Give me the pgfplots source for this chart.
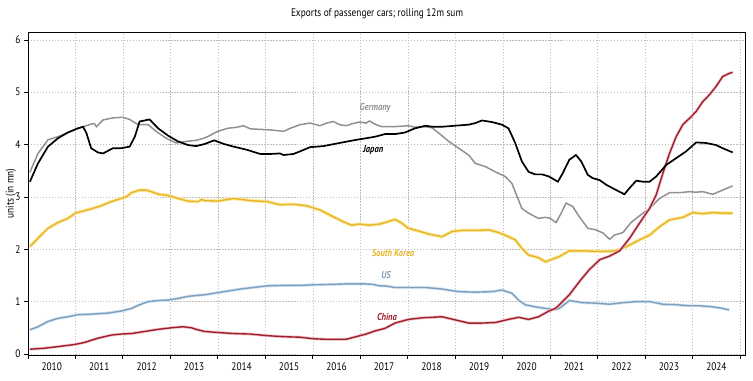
\documentclass[border=0pt]{standalone}
\usepackage{fontspec}
\setmainfont{PT Sans}[FakeStretch=0.85]
\usepackage{pgfplots}
\pgfplotsset{compat=1.18}
\definecolor{ger}{RGB}{145,145,145}
\definecolor{kor}{RGB}{230,182,38}
\definecolor{korglow}{RGB}{252,232,165}
\definecolor{usc}{RGB}{125,160,190}
\definecolor{usglow}{RGB}{215,230,242}
\definecolor{chn}{RGB}{160,30,45}
\definecolor{chnglow}{RGB}{240,200,205}
\definecolor{gridc}{RGB}{190,190,190}
\begin{document}
\begin{tikzpicture}
\useasboundingbox (-28bp,-26bp) rectangle (725bp,355bp);
\begin{axis}[
  scale only axis, width=717bp, height=323bp,
  at={(0,0)}, anchor=south west,
  xmin=2010, xmax=2025.1, ymin=-0.02, ymax=6.15,
  xtick={2010,...,2025},
  xticklabels={2010,2011,2012,2013,2014,2015,2016,2017,2018,2019,2020,2021,2022,2023,2024,},
  x tick label style={xshift=23.7bp, font=\fontsize{11}{13}\selectfont},
  ytick={0,...,6},
  y tick label style={font=\fontsize{11}{13}\selectfont},
  xtick pos=bottom, ytick pos=left,
  tick align=outside, major tick length=4bp,
  x tick style={black, line width=1pt},
  y tick style={black, line width=0.6pt},
  xmajorgrids, ymajorgrids,
  grid style={gridc, dash pattern=on 1.5pt off 1.5pt, line width=0.5pt},
  axis line style={black, line width=0.8pt},
  /pgf/number format/assume math mode=true,
  ylabel={units (in mn)},
  ylabel style={at={(axis description cs:-0.0237,0.5)}, anchor=center, font=\fontsize{11}{13}\selectfont},
  clip=false,
]
% US
\addplot[usglow, line width=3bp] coordinates {
(2010.04,0.46)(2010.21,0.52)(2010.42,0.62)(2010.63,0.68)(2010.84,0.71)(2011.05,0.75)(2011.33,0.76)(2011.68,0.78)(2011.96,0.82)(2012.18,0.87)(2012.35,0.94)(2012.53,1.00)(2012.74,1.02)(2012.95,1.03)(2013.16,1.06)(2013.37,1.10)(2013.58,1.12)(2013.72,1.13)(2013.92,1.16)(2014.20,1.20)(2014.47,1.24)(2014.75,1.27)(2015.03,1.30)(2015.38,1.31)(2015.73,1.31)(2016.01,1.32)(2016.43,1.33)(2016.77,1.34)(2017.05,1.34)(2017.26,1.33)(2017.40,1.30)(2017.52,1.30)(2017.73,1.27)(2018.01,1.27)(2018.37,1.27)(2018.72,1.24)(2019.07,1.19)(2019.42,1.18)(2019.77,1.19)(2019.98,1.22)(2020.19,1.16)(2020.33,1.03)(2020.47,0.94)(2020.68,0.90)(2020.90,0.87)(2021.11,0.85)(2021.19,0.87)(2021.40,1.02)(2021.68,0.98)(2021.96,0.97)(2022.25,0.95)(2022.53,0.98)(2022.81,1.00)(2023.09,1.00)(2023.37,0.95)(2023.65,0.94)(2023.93,0.92)(2024.14,0.92)(2024.42,0.90)(2024.63,0.87)(2024.77,0.84)};
\addplot[usc, line width=1.4bp] coordinates {
(2010.04,0.46)(2010.21,0.52)(2010.42,0.62)(2010.63,0.68)(2010.84,0.71)(2011.05,0.75)(2011.33,0.76)(2011.68,0.78)(2011.96,0.82)(2012.18,0.87)(2012.35,0.94)(2012.53,1.00)(2012.74,1.02)(2012.95,1.03)(2013.16,1.06)(2013.37,1.10)(2013.58,1.12)(2013.72,1.13)(2013.92,1.16)(2014.20,1.20)(2014.47,1.24)(2014.75,1.27)(2015.03,1.30)(2015.38,1.31)(2015.73,1.31)(2016.01,1.32)(2016.43,1.33)(2016.77,1.34)(2017.05,1.34)(2017.26,1.33)(2017.40,1.30)(2017.52,1.30)(2017.73,1.27)(2018.01,1.27)(2018.37,1.27)(2018.72,1.24)(2019.07,1.19)(2019.42,1.18)(2019.77,1.19)(2019.98,1.22)(2020.19,1.16)(2020.33,1.03)(2020.47,0.94)(2020.68,0.90)(2020.90,0.87)(2021.11,0.85)(2021.19,0.87)(2021.40,1.02)(2021.68,0.98)(2021.96,0.97)(2022.25,0.95)(2022.53,0.98)(2022.81,1.00)(2023.09,1.00)(2023.37,0.95)(2023.65,0.94)(2023.93,0.92)(2024.14,0.92)(2024.42,0.90)(2024.63,0.87)(2024.77,0.84)};
% South Korea
\addplot[korglow, line width=3.5bp] coordinates {
(2010.04,2.05)(2010.21,2.21)(2010.42,2.40)(2010.63,2.51)(2010.84,2.59)(2011.00,2.69)(2011.16,2.73)(2011.33,2.77)(2011.54,2.83)(2011.75,2.91)(2011.96,2.97)(2012.07,3.00)(2012.18,3.08)(2012.35,3.13)(2012.49,3.13)(2012.63,3.09)(2012.74,3.05)(2012.95,3.03)(2013.16,2.97)(2013.37,2.92)(2013.58,2.91)(2013.65,2.95)(2013.72,2.93)(2013.99,2.92)(2014.33,2.97)(2014.68,2.93)(2015.03,2.91)(2015.31,2.85)(2015.59,2.86)(2015.87,2.83)(2016.15,2.75)(2016.43,2.62)(2016.63,2.53)(2016.81,2.46)(2016.98,2.48)(2017.19,2.46)(2017.40,2.48)(2017.52,2.51)(2017.73,2.57)(2017.87,2.50)(2018.01,2.40)(2018.22,2.35)(2018.44,2.29)(2018.72,2.24)(2018.93,2.34)(2019.14,2.36)(2019.42,2.36)(2019.70,2.37)(2019.91,2.32)(2020.12,2.24)(2020.26,2.18)(2020.40,2.02)(2020.54,1.89)(2020.75,1.84)(2020.90,1.76)(2021.04,1.81)(2021.19,1.86)(2021.40,1.97)(2021.68,1.97)(2021.96,1.96)(2022.25,1.96)(2022.46,1.99)(2022.67,2.08)(2022.88,2.18)(2023.09,2.27)(2023.30,2.43)(2023.51,2.56)(2023.79,2.61)(2024.00,2.70)(2024.21,2.68)(2024.42,2.70)(2024.63,2.69)(2024.84,2.69)};
\addplot[kor, line width=1.4bp] coordinates {
(2010.04,2.05)(2010.21,2.21)(2010.42,2.40)(2010.63,2.51)(2010.84,2.59)(2011.00,2.69)(2011.16,2.73)(2011.33,2.77)(2011.54,2.83)(2011.75,2.91)(2011.96,2.97)(2012.07,3.00)(2012.18,3.08)(2012.35,3.13)(2012.49,3.13)(2012.63,3.09)(2012.74,3.05)(2012.95,3.03)(2013.16,2.97)(2013.37,2.92)(2013.58,2.91)(2013.65,2.95)(2013.72,2.93)(2013.99,2.92)(2014.33,2.97)(2014.68,2.93)(2015.03,2.91)(2015.31,2.85)(2015.59,2.86)(2015.87,2.83)(2016.15,2.75)(2016.43,2.62)(2016.63,2.53)(2016.81,2.46)(2016.98,2.48)(2017.19,2.46)(2017.40,2.48)(2017.52,2.51)(2017.73,2.57)(2017.87,2.50)(2018.01,2.40)(2018.22,2.35)(2018.44,2.29)(2018.72,2.24)(2018.93,2.34)(2019.14,2.36)(2019.42,2.36)(2019.70,2.37)(2019.91,2.32)(2020.12,2.24)(2020.26,2.18)(2020.40,2.02)(2020.54,1.89)(2020.75,1.84)(2020.90,1.76)(2021.04,1.81)(2021.19,1.86)(2021.40,1.97)(2021.68,1.97)(2021.96,1.96)(2022.25,1.96)(2022.46,1.99)(2022.67,2.08)(2022.88,2.18)(2023.09,2.27)(2023.30,2.43)(2023.51,2.56)(2023.79,2.61)(2024.00,2.70)(2024.21,2.68)(2024.42,2.70)(2024.63,2.69)(2024.84,2.69)};
% Germany
\addplot[ger, line width=1.5bp] coordinates {
(2010.04,3.47)(2010.21,3.83)(2010.42,4.09)(2010.63,4.15)(2010.84,4.23)(2011.00,4.29)(2011.16,4.34)(2011.33,4.39)(2011.40,4.40)(2011.44,4.34)(2011.58,4.47)(2011.79,4.51)(2012.00,4.52)(2012.14,4.48)(2012.32,4.38)(2012.53,4.38)(2012.70,4.25)(2012.91,4.12)(2013.12,4.03)(2013.33,4.06)(2013.54,4.08)(2013.70,4.12)(2013.78,4.15)(2013.99,4.25)(2014.20,4.31)(2014.40,4.33)(2014.54,4.36)(2014.68,4.30)(2014.89,4.29)(2015.10,4.28)(2015.31,4.26)(2015.38,4.25)(2015.52,4.31)(2015.73,4.38)(2015.94,4.41)(2016.15,4.36)(2016.29,4.41)(2016.43,4.44)(2016.56,4.38)(2016.70,4.36)(2016.84,4.40)(2016.98,4.43)(2017.12,4.41)(2017.19,4.45)(2017.33,4.38)(2017.45,4.34)(2017.66,4.34)(2017.87,4.35)(2018.01,4.36)(2018.15,4.33)(2018.37,4.34)(2018.51,4.32)(2018.65,4.22)(2018.86,4.06)(2019.07,3.93)(2019.28,3.80)(2019.42,3.64)(2019.63,3.58)(2019.84,3.48)(2020.05,3.39)(2020.19,3.26)(2020.30,3.01)(2020.40,2.78)(2020.54,2.69)(2020.75,2.59)(2020.90,2.61)(2021.00,2.59)(2021.12,2.51)(2021.23,2.69)(2021.33,2.88)(2021.47,2.82)(2021.61,2.62)(2021.79,2.40)(2021.96,2.37)(2022.11,2.31)(2022.25,2.19)(2022.35,2.27)(2022.53,2.32)(2022.70,2.51)(2022.88,2.64)(2023.09,2.78)(2023.30,2.97)(2023.51,3.08)(2023.72,3.08)(2023.93,3.10)(2024.07,3.09)(2024.21,3.10)(2024.42,3.05)(2024.63,3.13)(2024.84,3.21)};
% China
\addplot[chnglow, line width=3bp] coordinates {
(2010.04,0.09)(2010.35,0.11)(2010.63,0.14)(2010.98,0.18)(2011.19,0.22)(2011.47,0.30)(2011.75,0.36)(2011.96,0.38)(2012.18,0.39)(2012.46,0.43)(2012.74,0.47)(2013.02,0.50)(2013.26,0.52)(2013.44,0.50)(2013.58,0.46)(2013.72,0.43)(2013.99,0.41)(2014.33,0.39)(2014.68,0.38)(2015.03,0.35)(2015.38,0.33)(2015.73,0.32)(2016.01,0.29)(2016.29,0.28)(2016.70,0.28)(2016.91,0.33)(2017.12,0.38)(2017.31,0.44)(2017.52,0.49)(2017.73,0.59)(2018.01,0.66)(2018.30,0.69)(2018.72,0.71)(2019.00,0.65)(2019.28,0.59)(2019.56,0.59)(2019.84,0.60)(2020.12,0.66)(2020.33,0.70)(2020.54,0.66)(2020.75,0.71)(2020.97,0.82)(2021.11,0.87)(2021.19,0.94)(2021.40,1.13)(2021.61,1.38)(2021.82,1.61)(2022.04,1.80)(2022.25,1.87)(2022.46,1.97)(2022.67,2.21)(2022.88,2.50)(2023.09,2.78)(2023.23,3.04)(2023.37,3.45)(2023.51,3.83)(2023.65,4.15)(2023.79,4.38)(2023.93,4.50)(2024.07,4.63)(2024.21,4.82)(2024.35,4.95)(2024.49,5.11)(2024.63,5.30)(2024.77,5.36)(2024.84,5.38)};
\addplot[chn, line width=1.4bp] coordinates {
(2010.04,0.09)(2010.35,0.11)(2010.63,0.14)(2010.98,0.18)(2011.19,0.22)(2011.47,0.30)(2011.75,0.36)(2011.96,0.38)(2012.18,0.39)(2012.46,0.43)(2012.74,0.47)(2013.02,0.50)(2013.26,0.52)(2013.44,0.50)(2013.58,0.46)(2013.72,0.43)(2013.99,0.41)(2014.33,0.39)(2014.68,0.38)(2015.03,0.35)(2015.38,0.33)(2015.73,0.32)(2016.01,0.29)(2016.29,0.28)(2016.70,0.28)(2016.91,0.33)(2017.12,0.38)(2017.31,0.44)(2017.52,0.49)(2017.73,0.59)(2018.01,0.66)(2018.30,0.69)(2018.72,0.71)(2019.00,0.65)(2019.28,0.59)(2019.56,0.59)(2019.84,0.60)(2020.12,0.66)(2020.33,0.70)(2020.54,0.66)(2020.75,0.71)(2020.97,0.82)(2021.11,0.87)(2021.19,0.94)(2021.40,1.13)(2021.61,1.38)(2021.82,1.61)(2022.04,1.80)(2022.25,1.87)(2022.46,1.97)(2022.67,2.21)(2022.88,2.50)(2023.09,2.78)(2023.23,3.04)(2023.37,3.45)(2023.51,3.83)(2023.65,4.15)(2023.79,4.38)(2023.93,4.50)(2024.07,4.63)(2024.21,4.82)(2024.35,4.95)(2024.49,5.11)(2024.63,5.30)(2024.77,5.36)(2024.84,5.38)};
% Japan
\addplot[black, line width=1.7bp] coordinates {
(2010.04,3.29)(2010.21,3.64)(2010.42,3.96)(2010.63,4.12)(2010.84,4.23)(2011.05,4.31)(2011.16,4.34)(2011.23,4.22)(2011.33,3.93)(2011.47,3.85)(2011.58,3.83)(2011.79,3.93)(2011.96,3.93)(2012.14,3.96)(2012.25,4.15)(2012.35,4.44)(2012.56,4.48)(2012.74,4.31)(2012.95,4.17)(2013.16,4.06)(2013.37,3.99)(2013.54,3.97)(2013.72,4.01)(2013.92,4.08)(2014.13,4.01)(2014.33,3.96)(2014.61,3.90)(2014.89,3.82)(2015.10,3.82)(2015.31,3.83)(2015.38,3.80)(2015.59,3.82)(2015.73,3.87)(2015.94,3.95)(2016.22,3.97)(2016.56,4.03)(2016.91,4.09)(2017.12,4.12)(2017.31,4.15)(2017.52,4.20)(2017.73,4.20)(2017.94,4.23)(2018.15,4.31)(2018.37,4.36)(2018.51,4.34)(2018.72,4.34)(2019.00,4.36)(2019.28,4.38)(2019.42,4.41)(2019.56,4.46)(2019.77,4.43)(2019.98,4.38)(2020.12,4.31)(2020.26,4.03)(2020.40,3.68)(2020.54,3.48)(2020.68,3.43)(2020.83,3.43)(2020.97,3.39)(2021.16,3.29)(2021.26,3.45)(2021.40,3.71)(2021.54,3.80)(2021.65,3.68)(2021.79,3.42)(2021.89,3.36)(2022.04,3.32)(2022.18,3.23)(2022.39,3.13)(2022.56,3.05)(2022.67,3.17)(2022.81,3.31)(2022.95,3.29)(2023.09,3.29)(2023.23,3.39)(2023.44,3.61)(2023.65,3.74)(2023.86,3.87)(2024.07,4.04)(2024.28,4.03)(2024.49,3.99)(2024.63,3.93)(2024.84,3.85)};
\node[font=\fontsize{11}{13}\selectfont] at (rel axis cs:0.4868,1.0557) {Exports of passenger cars; rolling 12m sum};
\node[ger, font=\fontsize{10}{12}\selectfont\bfseries\itshape] at (axis cs:2017.31,4.70) {Germany};
\node[black, font=\fontsize{10}{12}\selectfont\bfseries\itshape] at (axis cs:2017.27,3.90) {Japan};
\node[kor, font=\fontsize{10}{12}\selectfont\bfseries\itshape] at (axis cs:2017.69,1.93) {South Korea};
\node[usc, font=\fontsize{10}{12}\selectfont\bfseries\itshape] at (axis cs:2017.54,1.51) {US};
\node[chn, font=\fontsize{10}{12}\selectfont\bfseries\itshape] at (axis cs:2017.56,0.71) {China};
\end{axis}
\end{tikzpicture}
\end{document}
